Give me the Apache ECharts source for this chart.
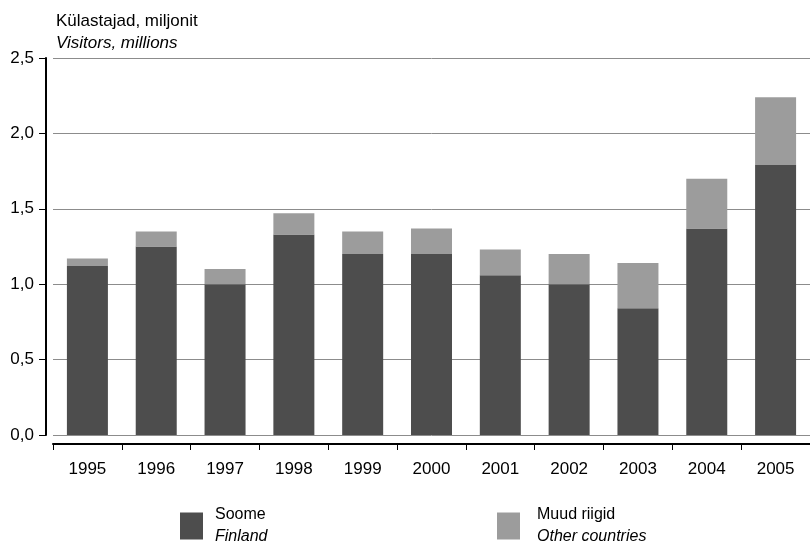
<!DOCTYPE html>
<html><head><meta charset="utf-8">
<script src="https://cdn.jsdelivr.net/npm/echarts@6/dist/echarts.min.js"></script>
<style>html,body{margin:0;padding:0;background:#fff}#c{width:810px;height:544px}</style>
</head><body><div id="c"></div>
<script>
const years = ['1995','1996','1997','1998','1999','2000','2001','2002','2003','2004','2005'];
const finland = [1.12, 1.25, 1.00, 1.33, 1.20, 1.20, 1.06, 1.00, 0.84, 1.37, 1.79];
const other = [0.05, 0.10, 0.10, 0.14, 0.15, 0.17, 0.17, 0.20, 0.30, 0.33, 0.45];
const seriesNames = ['Soome', 'Muud riigid'];
const seriesNamesEn = ['Finland', 'Other countries'];
const FONT = '"Liberation Sans", Arial, Helvetica, sans-serif';
const chart = echarts.init(document.getElementById('c'));
const legendFmt = name => {
  const i = seriesNames.indexOf(name);
  return '{a|' + name + '}\n{b|' + seriesNamesEn[i] + '}';
};
const legendRich = {
  a: {fontFamily: FONT, fontSize: 16, color: '#000', lineHeight: 22},
  b: {fontFamily: FONT, fontSize: 16, color: '#000', fontStyle: 'italic', lineHeight: 22}
};
chart.setOption({
  animation: false,
  title: {
    text: '{a|Külastajad, miljonit}\n{b|Visitors, millions}',
    left: 56, top: 10, padding: 0,
    textStyle: {fontWeight: 'normal', rich: {
      a: {fontFamily: FONT, fontSize: 17, color: '#000', lineHeight: 22, fontWeight: 'normal'},
      b: {fontFamily: FONT, fontSize: 17, color: '#000', fontStyle: 'italic', lineHeight: 22, fontWeight: 'normal'}
    }}
  },
  legend: [
    {data: [seriesNames[0]], left: 180, top: 507, padding: 0, itemWidth: 23, itemHeight: 27, icon: 'rect',
     formatter: legendFmt, textStyle: {rich: legendRich, padding: [0, 0, 0, 7]}, selectedMode: false},
    {data: [seriesNames[1]], left: 497, top: 507, padding: 0, itemWidth: 23, itemHeight: 27, icon: 'rect',
     formatter: legendFmt, textStyle: {rich: legendRich, padding: [0, 0, 0, 12]}, selectedMode: false}
  ],
  grid: {left: 53, top: 58, width: 760, height: 377, containLabel: false},
  xAxis: {
    type: 'category', data: years, offset: 9,
    axisLine: {show: true, onZero: false, lineStyle: {color: '#000', width: 2}},
    axisTick: {show: true, length: 6, lineStyle: {color: '#000', width: 1}},
    axisLabel: {fontFamily: FONT, fontSize: 17, color: '#000', margin: 17}
  },
  yAxis: {
    type: 'value', min: 0, max: 2.5, interval: 0.5, offset: 7,
    axisLine: {show: true, onZero: false, lineStyle: {color: '#000', width: 2}},
    axisTick: {show: true, length: 7, lineStyle: {color: '#000', width: 1}},
    axisLabel: {fontFamily: FONT, fontSize: 17, color: '#000', margin: 12,
      formatter: v => v.toFixed(1).replace('.', ',')},
    splitLine: {show: true, lineStyle: {color: '#8c8c8c', width: 1}}
  },
  series: [
    {name: seriesNames[0], type: 'bar', stack: 't', data: finland, barWidth: 41,
     itemStyle: {color: '#4d4d4d'}},
    {name: seriesNames[1], type: 'bar', stack: 't', data: other, barWidth: 41,
     itemStyle: {color: '#9c9c9c'}}
  ]
});
</script></body></html>
